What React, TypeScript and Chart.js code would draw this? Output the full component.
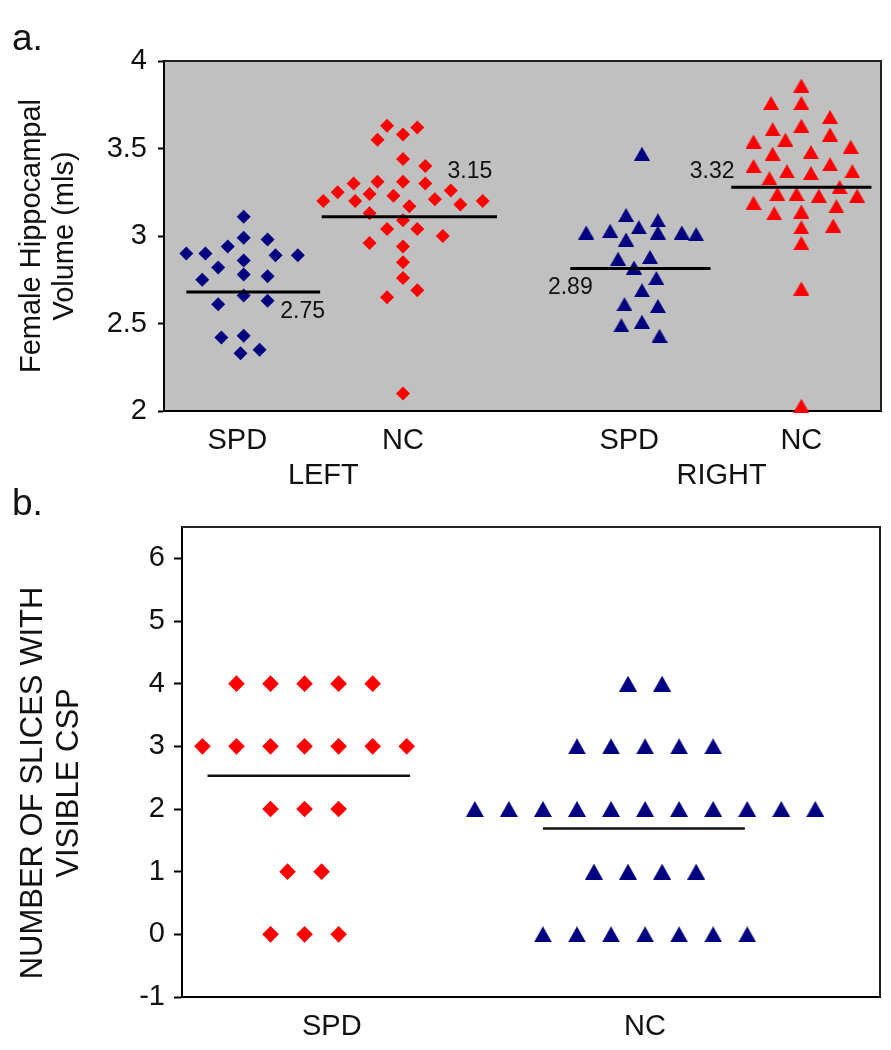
import React, { useEffect, useRef } from 'react';
import { Chart, registerables } from 'chart.js';

Chart.register(...registerables);

const FONT = '"Liberation Sans", Arial, Helvetica, sans-serif';
const NAVY = '#000080';
const RED = '#ff0000';
const INK = '#111111';

// ---------------- Panel a: female hippocampal volume (mls) ----------------
const volCategories = ['SPD', 'NC', 'SPD', 'NC'];
const volSides = ['LEFT', 'RIGHT'];
const volTickValues = [2, 2.5, 3, 3.5, 4];

const leftSpdVolumes = [3.11, 2.99, 2.98, 2.94, 2.9, 2.9, 2.89, 2.89, 2.86, 2.82, 2.75, 2.78, 2.77, 2.66, 2.61, 2.63, 2.42, 2.43, 2.33, 2.35];
const leftSpdJitter = [0, 0, 0.15, -0.1, -0.36, -0.24, 0.2, 0.34, 0, -0.16, -0.26, 0, 0.15, 0, -0.16, 0.15, -0.14, 0, -0.02, 0.1];

const leftNcVolumes = [3.63, 3.62, 3.55, 3.58, 3.44, 3.4, 3.31, 3.31, 3.3, 3.3, 3.25, 3.2, 3.24, 3.2, 3.23, 3.17, 3.21, 3.26, 3.18, 3.2, 3.13, 3.09, 3.04, 3.04, 3.0, 2.96, 2.94, 2.85, 2.76, 2.69, 2.65, 2.1];
const leftNcJitter = [-0.1, 0.09, -0.16, 0, 0, 0.14, -0.16, 0, 0.14, -0.31, -0.41, -0.5, -0.21, -0.3, -0.06, 0.04, 0.2, 0.3, 0.36, 0.5, -0.21, 0, -0.1, 0.09, 0.25, -0.21, 0, 0, 0, 0.09, -0.1, 0];

const rightSpdVolumes = [3.47, 3.12, 3.09, 3.02, 3.03, 3.05, 3.02, 3.02, 3.01, 2.98, 2.87, 2.88, 2.82, 2.76, 2.69, 2.61, 2.6, 2.49, 2.51, 2.43];
const rightSpdJitter = [0, -0.1, 0.1, -0.35, -0.2, -0.02, 0.1, 0.25, 0.34, -0.1, -0.15, 0.05, -0.05, 0.09, 0, -0.11, 0.1, -0.13, 0, 0.11];

const rightNcVolumes = [3.86, 3.76, 3.76, 3.68, 3.61, 3.63, 3.58, 3.54, 3.55, 3.51, 3.47, 3.48, 3.4, 3.37, 3.36, 3.41, 3.37, 3.33, 3.28, 3.24, 3.24, 3.23, 3.23, 3.19, 3.13, 3.14, 3.17, 3.05, 3.06, 2.96, 2.7, 2.03];
const rightNcJitter = [0, -0.19, 0, 0.18, -0.18, 0, 0.18, -0.3, -0.1, 0.31, -0.18, 0.06, -0.3, -0.09, 0.06, 0.18, 0.32, -0.2, 0.24, -0.15, -0.03, 0.11, 0.35, -0.3, -0.17, 0, 0.22, 0, 0.2, 0, 0, 0];

const volMeans = [2.68, 3.11, 2.815, 3.278];
const volMeanLabels = ['2.75', '3.15', '2.89', '3.32'];

// ---------------- Panel b: number of slices with visible CSP ----------------
const cspCategories = ['SPD', 'NC'];
const cspTickValues = [-1, 0, 1, 2, 3, 4, 5, 6];
const spdSlices = [4, 4, 4, 4, 4, 3, 3, 3, 3, 3, 3, 3, 2, 2, 2, 1, 1, 0, 0, 0];
const spdSliceJitter = [-2, -1, 0, 1, 2, -3, -2, -1, 0, 1, 2, 3, -1, 0, 1, -0.5, 0.5, -1, 0, 1];
const ncSlices = [4, 4, 3, 3, 3, 3, 3, 2, 2, 2, 2, 2, 2, 2, 2, 2, 2, 2, 1, 1, 1, 1, 0, 0, 0, 0, 0, 0, 0];
const ncSliceJitter = [-0.5, 0.5, -2, -1, 0, 1, 2, -5, -4, -3, -2, -1, 0, 1, 2, 3, 4, 5, -1.5, -0.5, 0.5, 1.5, -3, -2, -1, 0, 1, 2, 3];
const cspMeans = [2.53, 1.69];

// ---------------- placement in axis units ----------------
const volGroupX = [0.5, 1.5, 3.0, 4.0];
const volTickX = [0.46, 1.0, 1.5, 2.92, 3.5, 4.0];
const volMeanSpan = [[0.14, 0.98], [0.99, 2.09], [2.55, 3.43], [3.56, 4.44]];
const volMeanLabelPos = [[0.87, 2.57], [1.92, 3.365], [2.55, 2.707], [3.44, 3.367]];
const cspGroupX = [3.6, 13.6];
const cspTickX = [4.4, 13.6];
const cspMeanSpan = [[-2.85, 3.1], [-3.0, 2.93]];

function triangleImage(w: number, h: number, color: string) {
  const c = document.createElement('canvas');
  c.width = w;
  c.height = h;
  const g = c.getContext('2d')!;
  g.fillStyle = color;
  g.beginPath();
  g.moveTo(w / 2, 0);
  g.lineTo(w, h);
  g.lineTo(0, h);
  g.closePath();
  g.fill();
  return c;
}

const pts = (cx: number, vals: number[], jit: number[]) => vals.map((y, i) => ({ x: cx + jit[i], y }));

function configA(): any {
  const triNavy = triangleImage(16, 14, NAVY);
  const triRed = triangleImage(16, 14, RED);
  const xLabels: any[] = [volCategories[0], ['', volSides[0]], volCategories[1], volCategories[2], ['', volSides[1]], volCategories[3]];
  const series = [
    { d: pts(volGroupX[0], leftSpdVolumes, leftSpdJitter), style: 'rectRot', r: 7, c: NAVY },
    { d: pts(volGroupX[1], leftNcVolumes, leftNcJitter), style: 'rectRot', r: 7, c: RED },
    { d: pts(volGroupX[2], rightSpdVolumes, rightSpdJitter), style: triNavy, r: 8, c: NAVY },
    { d: pts(volGroupX[3], rightNcVolumes, rightNcJitter), style: triRed, r: 8, c: RED },
  ];
  const tickFont = { family: FONT, size: 29 };
  const plugin = {
    id: 'panelA',
    beforeDraw(chart: any) {
      const { ctx, chartArea: a } = chart;
      ctx.save();
      ctx.fillStyle = '#c0c0c0';
      ctx.fillRect(a.left, a.top, a.right - a.left, a.bottom - a.top);
      ctx.restore();
    },
    afterDraw(chart: any) {
      const { ctx, chartArea: a, scales } = chart;
      ctx.save();
      ctx.strokeStyle = '#222';
      ctx.lineWidth = 2;
      ctx.beginPath();
      ctx.moveTo(a.left, a.top);
      ctx.lineTo(a.right, a.top);
      ctx.lineTo(a.right, a.bottom);
      ctx.stroke();
      ctx.fillStyle = INK;
      ctx.font = `23px ${FONT}`;
      ctx.textAlign = 'center';
      ctx.textBaseline = 'middle';
      volMeanLabels.forEach((t, i) => {
        ctx.fillText(t, scales.x.getPixelForValue(volMeanLabelPos[i][0]), scales.y.getPixelForValue(volMeanLabelPos[i][1]));
      });
      ctx.font = `37px ${FONT}`;
      ctx.textAlign = 'left';
      ctx.textBaseline = 'alphabetic';
      ctx.fillText('a.', 12, 50);
      ctx.restore();
    },
  };
  return {
    type: 'scatter',
    data: {
      datasets: [
        ...volMeans.map((m, i) => ({
          data: [{ x: volMeanSpan[i][0], y: m }, { x: volMeanSpan[i][1], y: m }],
          showLine: true,
          borderColor: '#000',
          borderWidth: 3,
          pointRadius: 0,
          pointHoverRadius: 0,
          order: 0,
        })),
        ...series.map((s) => ({
          data: s.d,
          pointStyle: s.style,
          pointRadius: s.r,
          pointHoverRadius: s.r,
          backgroundColor: s.c,
          borderColor: s.c,
          borderWidth: 0,
          showLine: false,
          clip: false,
          order: 1,
        })),
      ],
    },
    options: {
      animation: false,
      responsive: false,
      devicePixelRatio: 1,
      events: [],
      layout: { padding: { left: 0, top: 61, right: 10, bottom: 0 } },
      plugins: { legend: { display: false }, tooltip: { enabled: false } },
      scales: {
        x: {
          type: 'linear',
          min: 0,
          max: 4.5,
          afterBuildTicks: (s: any) => { s.ticks = volTickX.map((v) => ({ value: v })); },
          afterFit: (s: any) => { s.height = 89; },
          ticks: { autoSkip: false, maxRotation: 0, minRotation: 0, padding: 13, color: INK, font: tickFont, callback: (_v: any, i: number) => xLabels[i] },
          grid: { display: true, drawOnChartArea: false, drawTicks: false },
          border: { display: true, color: '#000', width: 2 },
        },
        y: {
          type: 'linear',
          min: 2,
          max: 4,
          afterBuildTicks: (s: any) => { s.ticks = volTickValues.map((v) => ({ value: v })); },
          afterFit: (s: any) => { s.width = 164; },
          ticks: { padding: 11, color: INK, font: tickFont, callback: (v: any) => String(v) },
          grid: { display: true, drawOnChartArea: false, drawTicks: true, tickLength: 6, tickColor: '#000', tickWidth: 2, color: '#000' },
          border: { display: true, color: '#000', width: 2 },
          title: {
            display: true,
            text: ['Female Hippocampal', 'Volume (mls)'],
            color: INK,
            font: { family: FONT, size: 29, lineHeight: 1.14 },
            padding: { top: 15, bottom: 0 },
          },
        },
      },
    },
    plugins: [plugin],
  };
}

function configB(): any {
  const triNavy = triangleImage(18, 16, NAVY);
  const tickFont = { family: FONT, size: 29 };
  const plugin = {
    id: 'panelB',
    afterDraw(chart: any) {
      const { ctx, chartArea: a } = chart;
      ctx.save();
      ctx.strokeStyle = '#222';
      ctx.lineWidth = 2;
      ctx.beginPath();
      ctx.moveTo(a.left, a.top);
      ctx.lineTo(a.right, a.top);
      ctx.lineTo(a.right, a.bottom);
      ctx.stroke();
      ctx.fillStyle = INK;
      ctx.font = `31px ${FONT}`;
      ctx.textAlign = 'center';
      ctx.textBaseline = 'middle';
      const titleLines = ['NUMBER OF SLICES WITH', 'VISIBLE CSP'];
      const xs = [33, 69];
      titleLines.forEach((t, i) => {
        ctx.save();
        ctx.translate(xs[i], 313);
        ctx.rotate(-Math.PI / 2);
        ctx.fillText(t, 0, 0);
        ctx.restore();
      });
      ctx.font = `37px ${FONT}`;
      ctx.textAlign = 'left';
      ctx.textBaseline = 'alphabetic';
      ctx.fillText('b.', 12, 45);
      ctx.restore();
    },
  };
  return {
    type: 'scatter',
    data: {
      datasets: [
        ...cspMeans.map((m, i) => ({
          data: [{ x: cspGroupX[i] + cspMeanSpan[i][0], y: m }, { x: cspGroupX[i] + cspMeanSpan[i][1], y: m }],
          showLine: true,
          borderColor: '#111',
          borderWidth: 2.5,
          pointRadius: 0,
          pointHoverRadius: 0,
          order: 0,
        })),
        {
          data: pts(cspGroupX[0], spdSlices, spdSliceJitter),
          pointStyle: 'rectRot',
          pointRadius: 8.3,
          backgroundColor: RED,
          borderColor: RED,
          borderWidth: 0,
          clip: false,
          order: 1,
        },
        {
          data: pts(cspGroupX[1], ncSlices, ncSliceJitter),
          pointStyle: triNavy,
          pointRadius: 9,
          backgroundColor: NAVY,
          borderColor: NAVY,
          borderWidth: 0,
          clip: false,
          order: 1,
        },
      ],
    },
    options: {
      animation: false,
      responsive: false,
      devicePixelRatio: 1,
      events: [],
      layout: { padding: { left: 0, top: 57, right: 11, bottom: 0 } },
      plugins: { legend: { display: false }, tooltip: { enabled: false } },
      scales: {
        x: {
          type: 'linear',
          min: 0,
          max: 20.5,
          afterBuildTicks: (s: any) => { s.ticks = cspTickX.map((v) => ({ value: v })); },
          afterFit: (s: any) => { s.height = 53; },
          ticks: { autoSkip: false, maxRotation: 0, minRotation: 0, padding: 13, color: INK, font: tickFont, callback: (_v: any, i: number) => cspCategories[i] },
          grid: { display: true, drawOnChartArea: false, drawTicks: false },
          border: { display: true, color: '#000', width: 2 },
        },
        y: {
          type: 'linear',
          min: -1,
          max: 6.5,
          afterBuildTicks: (s: any) => { s.ticks = cspTickValues.map((v) => ({ value: v })); },
          afterFit: (s: any) => { s.width = 182; },
          ticks: { padding: 9, color: INK, font: tickFont, callback: (v: any) => String(v) },
          grid: { display: true, drawOnChartArea: false, drawTicks: true, tickLength: 8, tickColor: '#000', tickWidth: 2, color: '#000' },
          border: { display: true, color: '#000', width: 2 },
        },
      },
    },
    plugins: [plugin],
  };
}

export default function App() {
  const refA = useRef<HTMLCanvasElement>(null);
  const refB = useRef<HTMLCanvasElement>(null);
  useEffect(() => {
    const a = new Chart(refA.current!, configA());
    const b = new Chart(refB.current!, configB());
    return () => {
      a.destroy();
      b.destroy();
    };
  }, []);
  return (
    <div style={{ position: 'absolute', left: 0, top: 0, width: 891, height: 1050, background: '#fff', overflow: 'hidden' }}>
      <canvas ref={refA} width={891} height={500} style={{ position: 'absolute', left: 0, top: 0, width: 891, height: 500 }} />
      <canvas ref={refB} width={891} height={580} style={{ position: 'absolute', left: 0, top: 470, width: 891, height: 580 }} />
    </div>
  );
}
